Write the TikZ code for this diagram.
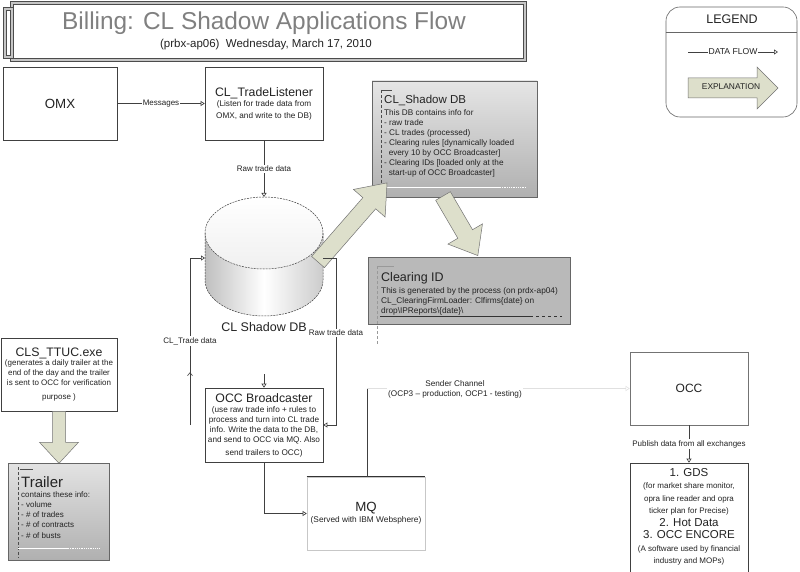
\documentclass[tikz,border=0pt]{standalone}
\usepackage{fontspec}
\setmainfont{Liberation Sans}
\usetikzlibrary{arrows.meta,decorations.markings,calc}
\definecolor{arrowfill}{RGB}{221,223,203}
\definecolor{txt}{RGB}{35,35,35}
\newcommand\fsz[2]{\fontsize{#1}{#2}\selectfont}
\tikzset{
  box/.style={draw=black!75, line width=0.6pt, fill=white, inner sep=1pt, align=center, text=txt, font=\fsz{8.2}{10}},
  flow/.style={draw=black!75, line width=0.6pt, -{Triangle[open,length=4pt,width=5pt]}},
  plain/.style={draw=black!75, line width=0.6pt},
  lbl/.style={fill=white, inner sep=1pt, text=txt, font=\fsz{8}{9}},
  bigarrow/.style={fill=arrowfill, draw=black!55, line width=0.5pt},
  pics/fatarrow/.style n args={4}{code={
    \draw[bigarrow] (0,-#2) -- ({#1-#4},-#2) -- ({#1-#4},-#3) -- (#1,0) -- ({#1-#4},#3) -- ({#1-#4},#2) -- (0,#2) -- cycle;}},
  gbox/.style={draw=black!60, line width=0.6pt},
  ttl/.style={font=\fsz{12.3}{14}, text=txt},
  mid arrow/.style={postaction={decorate}, decoration={markings, mark=at position #1 with {\arrow{Straight Barb[length=3pt,width=5pt]}}}}
}
\begin{document}
\begin{tikzpicture}[x=1pt,y=-1pt]
\useasboundingbox[fill=white] (0,0) rectangle (800,572);

% ---------- title banner
\draw[black!70, line width=0.7pt, double=gray!45, double distance=1.8pt] (12,3) rectangle (525,60);
\draw[black!70, line width=0.7pt, double=gray!45, double distance=1.8pt] (5,9) rectangle (12,57);
\node[text=black!50, font=\fsz{24.4}{28}] (title) at (264,23) {Billing: CL Shadow Applications Flow};
\node[text=txt, font=\fsz{11.5}{13}] (subtitle) at (266,45) {(prbx-ap06)\ \ Wednesday, March 17, 2010};

% ---------- legend
\node[draw=black!60, line width=0.6pt, rounded corners=14pt, minimum width=131, minimum height=110, inner sep=0pt] (legend) at (731.5,62) {};
\draw[black!60, line width=0.6pt] (legend.west |- 0,32) -- (legend.east |- 0,32);
\node[text=txt, font=\fsz{12.5}{14}] (legendtitle) at (732,19) {LEGEND};
\coordinate (dfa) at (688,52);
\coordinate (dfb) at (778,52);
\draw[flow] (dfa) -- node[lbl, font=\fsz{8.6}{10}] (dflabel) {DATA FLOW} (dfb);
\pic at (688,88) {fatarrow={90}{10}{21}{21}};
\node[text=txt, font=\fsz{8.4}{10}] (explabel) at (731,87) {EXPLANATION};

% ---------- top row
\node[box, minimum width=114, minimum height=73, font=\fsz{13.3}{15}] (omx) at (60,103.5) {OMX};
\node[box, minimum width=118, minimum height=73] (tl) at (264,103.5)
  {{\fsz{12.3}{14}CL\_TradeListener}\\[0pt](Listen for trade data from\\[2pt]OMX, and write to the DB)};
\draw[flow] (omx) -- node[lbl] (msglabel) {Messages} (tl);

% ---------- CL_Shadow DB box
\node[gbox, top color=gray!20, bottom color=gray!62, minimum width=165, minimum height=116, inner sep=0pt] (sdb) at (454.5,139) {};
\draw[black!70, densely dashed, line width=0.5pt] (381,90) -- (381,196);
\draw[black!70, line width=0.5pt] (381,90) -- (392,90);
\draw[white, line width=0.8pt] (381,187) -- (500,187);
\draw[white, line width=0.8pt, densely dotted] (500,187) -- (526,187);
\node[anchor=north west, align=left, inner sep=0pt, text=txt, font=\fsz{8.2}{10}] (sdbtext) at (384,95)
  {{\fsz{11.5}{13}CL\_Shadow DB}\\[2pt]This DB contains info for\\- raw trade\\- CL trades (processed)\\- Clearing rules [dynamically loaded\\\ \ every 10 by OCC Broadcaster]\\- Clearing IDs [loaded only at the\\\ \ start-up of OCC Broadcaster]};

% ---------- Clearing ID box
\node[gbox, top color=gray!55, middle color=gray!22, bottom color=gray!55, minimum width=202, minimum height=67, inner sep=0pt] (cid) at (469,290.5) {};
\draw[black!40, densely dashed, line width=0.5pt] (377,266) -- (377,345);
\draw[black!40, line width=0.5pt] (377,266) -- (394,266);
\draw[black!80, line width=0.8pt] (380,316) -- (530,316);
\draw[black!80, line width=0.8pt, dashed] (530,316) -- (562,316);
\node[anchor=north west, align=left, inner sep=0pt, text=txt, font=\fsz{8.3}{9.6}] (cidtext) at (381,272)
  {{\fsz{12.5}{14}Clearing ID}\\[3pt]This is generated by the process (on prdx-ap04)\\CL\_ClearingFirmLoader: Clfirms\{date\} on\\drop\textbackslash IPReports\textbackslash\{date\}\textbackslash};

% ---------- cylinder (CL Shadow DB)
\coordinate (cyltop) at (264,197);
\coordinate (cylleft) at (205,258);
\coordinate (cylright) at (323,258);
\path[left color=gray!50, right color=gray!40, middle color=white] (205,233) -- (205,280) arc[start angle=180, end angle=0, x radius=59, y radius=36] -- (323,233) -- cycle;
\path[top color=white, bottom color=gray!12] (264,233) ellipse[x radius=59, y radius=36];
\draw[black!75, line width=0.5pt, dash pattern=on 2pt off 1pt] (205,233) -- (205,280) arc[start angle=180, end angle=0, x radius=59, y radius=36] -- (323,233);
\draw[black!75, line width=0.5pt, dash pattern=on 2pt off 1pt] (264,233) ellipse[x radius=59, y radius=36];
\node[text=txt, font=\fsz{12.5}{14}] (cyllabel) at (264,327) {CL Shadow DB};

\draw[flow] (tl.south) -- node[lbl] (rawlabel1) {Raw trade data} (cyltop);

% ---------- big explanation arrows
\pic[rotate=48.9] at (318,262) {fatarrow={105}{8.5}{21}{27}};
\pic[rotate=-59.7] at (443,196) {fatarrow={69}{8.5}{20}{25}};

% ---------- OCC Broadcaster
\node[box, minimum width=118, minimum height=74] (bc) at (264,425)
  {{\fsz{12.3}{14}OCC Broadcaster}\\[0pt](use raw trade info + rules to\\process and turn into CL trade\\info. Write the data to the DB,\\and send to OCC via MQ. Also\\[3pt]send trailers to OCC)};

\coordinate (ctd) at (190,425);
\draw[flow, mid arrow=0.29] (ctd) |- (cylleft);
\node[lbl] (ctdlabel) at (190,341) {CL\_Trade data};

\coordinate (rtr) at (336,258);
\coordinate (rbr) at (336,425);
\draw[flow] (cylright) -- (rtr) -- (rbr) -- (bc.east);
\node[lbl] (rawlabel2) at (336,333) {Raw trade data};

\coordinate (stub) at (264,374);
\draw[flow] (stub) -- (bc.north);

% ---------- MQ
\node[draw=black!22, line width=0.6pt, fill=white, minimum width=118, minimum height=73, inner sep=0pt] (mq) at (366,513.5) {};
\draw[black!80, line width=0.7pt] (mq.north west) -- (mq.north east);
\node[align=center, inner sep=0pt, text=txt, font=\fsz{8.3}{10}] (mqtext) at (366,513)
  {{\fsz{13.3}{15}MQ}\\[1pt](Served with IBM Websphere)};
\draw[flow] (bc.south) |- (mq.west);

% ---------- OCC
\node[box, draw=black!55, minimum width=118, minimum height=73, font=\fsz{12}{14}] (occ) at (689,388.5) {OCC};
\coordinate (scorner) at (367,388.5);
\draw[plain] (mq.north -| scorner) -- (scorner);
\draw[draw=black!12, line width=0.5pt, -{Triangle[open,length=4pt,width=5pt]}] (scorner) -- (occ.west);
\node[lbl, align=center, font=\fsz{8.2}{10}] (sclabel) at (455,389) {Sender Channel\\(OCP3 -- production, OCP1 - testing)};

% ---------- GDS box
\node[box, minimum width=118, minimum height=114] (gds) at (689,520) {};
\node[align=center, inner sep=0pt, text=txt, font=\fsz{8}{12.5}] (gdstext) at (689,517)
  {{\fsz{11.5}{13}1. GDS}\\(for market share monitor,\\opra line reader and opra\\ticker plan for Precise)\\{\fsz{11.5}{13}2. Hot Data}\\{\fsz{11.5}{13}3. OCC ENCORE}\\(A software used by financial\\industry and MOPs)};
\draw[flow] (occ.south) -- node[lbl] (publabel) {Publish data from all exchanges} (gds.north);

% ---------- CLS_TTUC and trailer
\node[box, minimum width=116, minimum height=73, font=\fsz{8}{10}] (cls) at (59,374.5)
  {{\fsz{12.3}{14}CLS\_TTUC.exe}\\[-1pt](generates a daily trailer at the\\end of the day and the trailer\\is sent to OCC for verification\\[4pt]purpose )};
\pic[rotate=-90] at (cls.south) {fatarrow={52}{6.5}{19.5}{21}};
\node[gbox, top color=gray!22, bottom color=gray!62, minimum width=101, minimum height=97, inner sep=0pt] (trailer) at (58.5,511.5) {};
\draw[black!70, densely dashed, line width=0.5pt] (18,467) -- (18,558);
\draw[black!70, line width=0.5pt] (20,469) -- (33,469);
\draw[white, line width=0.8pt] (18,548) -- (68,548);
\draw[white, line width=0.8pt, densely dotted] (68,548) -- (100,548);
\node[anchor=north west, align=left, inner sep=0pt, text=txt, font=\fsz{8}{10.2}] (trtext) at (21,476)
  {{\fsz{15}{15}Trailer}\\contains these info:\\- volume\\- \# of trades\\- \# of contracts\\- \# of busts};

\end{tikzpicture}
\end{document}
